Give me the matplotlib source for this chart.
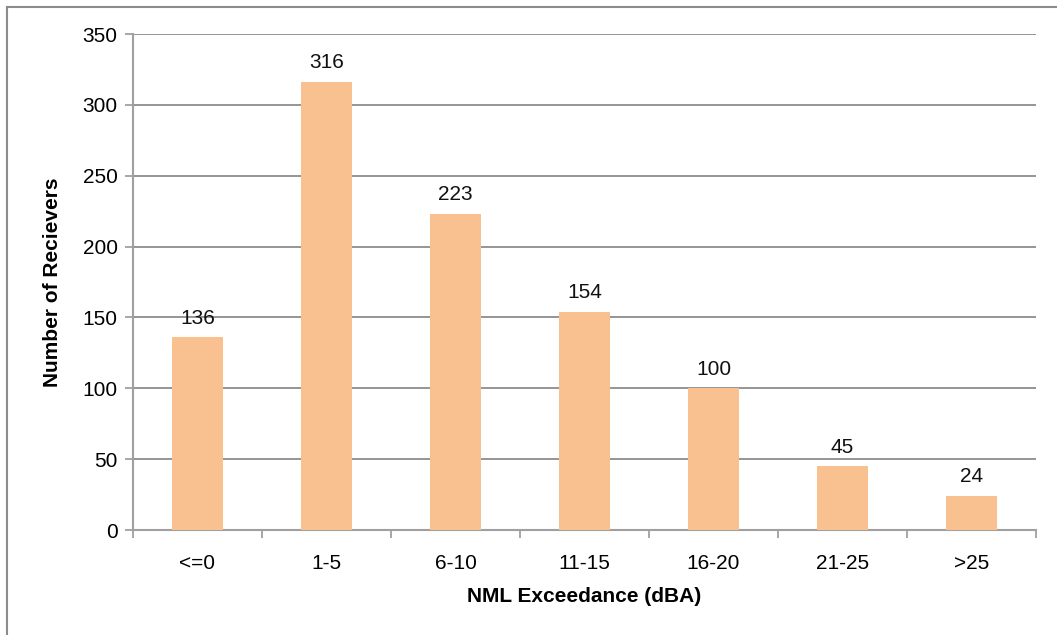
import matplotlib
matplotlib.use("Agg")
import matplotlib.pyplot as plt
from matplotlib.lines import Line2D

# Data
categories = ["<=0", "1-5", "6-10", "11-15", "16-20", "21-25", ">25"]
receivers = [136, 316, 223, 154, 100, 45, 24]
y_ticks = [0, 50, 100, 150, 200, 250, 300, 350]

plt.rcParams["font.family"] = ["Liberation Sans", "DejaVu Sans"]
fs = 15

fig = plt.figure(figsize=(10.57, 6.35), dpi=100)
ax = fig.add_axes([133 / 1057, 1 - 530 / 635, (1036 - 133) / 1057, (530 - 34) / 635])

x = list(range(len(categories)))
ax.bar(x, receivers, width=0.4, color="#F9C18F", zorder=3)

for xi, v in zip(x, receivers):
    ax.annotate(str(v), (xi, v), xytext=(0, 7), textcoords="offset points",
                ha="center", va="bottom", fontsize=fs, color="#111111")

ax.set_xlim(-0.5, len(categories) - 0.5)
ax.set_ylim(0, 350)
ax.set_yticks(y_ticks)
ax.set_yticklabels([str(t) for t in y_ticks], fontsize=fs)
ax.yaxis.grid(True, color="#8C8C8C", linewidth=1.3, zorder=0)

# category labels centred, tick marks on the boundaries
ax.set_xticks(x)
ax.set_xticklabels(categories, fontsize=fs)
ax.tick_params(axis="x", length=0, pad=17)
ax.set_xticks([i - 0.5 for i in range(len(categories) + 1)], minor=True)
ax.tick_params(axis="x", which="minor", length=6, width=1.3, color="#A0A0A0")
ax.tick_params(axis="y", length=6, width=1.3, color="#A0A0A0", pad=5)

for s in ["top", "right"]:
    ax.spines[s].set_visible(False)
for s in ["left", "bottom"]:
    ax.spines[s].set_color("#A0A0A0")
    ax.spines[s].set_linewidth(1.5)

ax.set_ylabel("Number of Recievers", fontsize=fs, fontweight="bold", labelpad=15)
ax.set_xlabel("NML Exceedance (dBA)", fontsize=fs, fontweight="bold", labelpad=10)

# outer chart border (left and top visible in reference)
fig.add_artist(Line2D([7 / 1057, 7 / 1057], [0, 1 - 7 / 635], transform=fig.transFigure,
                      color="#8C8C8C", linewidth=1.5))
fig.add_artist(Line2D([7 / 1057, 1], [1 - 7 / 635, 1 - 7 / 635], transform=fig.transFigure,
                      color="#8C8C8C", linewidth=1.5))

fig.savefig("out.png", dpi=100)
